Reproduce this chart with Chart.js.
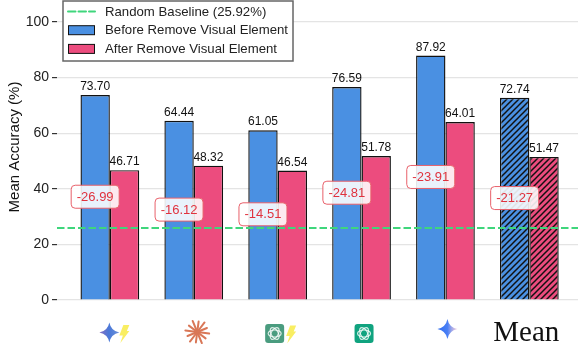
<!DOCTYPE html>
<html>
<head>
<meta charset="utf-8">
<script src="https://cdn.jsdelivr.net/npm/chart.js@4"></script>
<style>
html, body { margin: 0; padding: 0; background: #fff; }
canvas { display: block; }
</style>
</head>
<body>
<canvas id="myChart" width="578" height="354"></canvas>
<script>
const xLabels = ['', '', '', '', '', 'Mean'];
const icons = ['geminiBolt', 'claude', 'gptBolt', 'gpt', 'gemini', ''];
const before = [73.70, 64.44, 61.05, 76.59, 87.92, 72.74];
const after = [46.71, 48.32, 46.54, 51.78, 64.01, 51.47];
const diffs = [-26.99, -16.12, -14.51, -24.81, -23.91, -21.27];
const baseline = 25.92;
const yTicks = [0, 20, 40, 60, 80, 100];
const yTitle = 'Mean Accuracy (%)';
const xMin = -0.63, xMax = 5.58;

const BLUE = '#4a90e2', PINK = '#ec4c7e', GREEN = '#3fd67c';
const FONT = '"Liberation Sans", Arial, sans-serif';

function hatch(color) {
    const c = document.createElement('canvas');
    c.width = c.height = 6;
    const g = c.getContext('2d');
    g.fillStyle = color;
    g.fillRect(0, 0, 6, 6);
    g.strokeStyle = '#111';
    g.lineWidth = 1.5;
    [[-1, 1, 1, -1], [-1, 7, 7, -1], [5, 7, 7, 5]].forEach(l => {
        g.beginPath();
        g.moveTo(l[0], l[1]);
        g.lineTo(l[2], l[3]);
        g.stroke();
    });
    return g.createPattern(c, 'repeat');
}

function fills(color) {
    return xLabels.map(l => l === 'Mean' ? hatch(color) : color);
}

function points(values) {
    return values.map((v, i) => ({ x: i, y: v }));
}

function sparkle(ctx, x, y, r, fill) {
    const k = r * 0.16;
    ctx.fillStyle = fill;
    ctx.beginPath();
    ctx.moveTo(x, y - r);
    ctx.quadraticCurveTo(x + k, y - k, x + r, y);
    ctx.quadraticCurveTo(x + k, y + k, x, y + r);
    ctx.quadraticCurveTo(x - k, y + k, x - r, y);
    ctx.quadraticCurveTo(x - k, y - k, x, y - r);
    ctx.fill();
}

function bolt(ctx, x, y) {
    ctx.fillStyle = '#f9ee62';
    ctx.beginPath();
    ctx.moveTo(x - 1, y - 9);
    ctx.lineTo(x + 5, y - 9);
    ctx.lineTo(x + 2.5, y - 3);
    ctx.lineTo(x + 5, y - 3);
    ctx.lineTo(x - 4, y + 9);
    ctx.lineTo(x - 1.5, y + 1.5);
    ctx.lineTo(x - 5, y + 1.5);
    ctx.closePath();
    ctx.fill();
}

function gptTile(ctx, x, y, color) {
    ctx.fillStyle = color;
    ctx.beginPath();
    ctx.roundRect(x - 9.5, y - 9.5, 19, 19, 3);
    ctx.fill();
    ctx.strokeStyle = 'rgba(255,255,255,0.8)';
    ctx.lineWidth = 1.2;
    for (let a = 0; a < 3; a++) {
        ctx.save();
        ctx.translate(x, y);
        ctx.rotate(a * Math.PI / 3);
        ctx.beginPath();
        ctx.ellipse(0, 0, 6.5, 3.5, 0, 0, Math.PI * 2);
        ctx.stroke();
        ctx.restore();
    }
}

function drawIcon(ctx, name, x) {
    if (name === 'geminiBolt') {
        const g = ctx.createLinearGradient(x - 11, 0, x + 9, 0);
        g.addColorStop(0, '#8a6fc0');
        g.addColorStop(0.5, '#4a78d8');
        g.addColorStop(1, '#6a8fd8');
        sparkle(ctx, x - 0.5, 332.5, 10, g);
        bolt(ctx, x + 14.5, 334);
    } else if (name === 'claude') {
        ctx.strokeStyle = '#d97757';
        ctx.lineWidth = 2;
        ctx.lineCap = 'round';
        for (let a = 0; a < 12; a++) {
            const t = a * Math.PI / 6 + 0.13;
            const r = a % 2 ? 10.5 : 12;
            ctx.beginPath();
            ctx.moveTo(x + 3.5, 332);
            ctx.lineTo(x + 3.5 + Math.cos(t) * r, 332 + Math.sin(t) * r);
            ctx.stroke();
        }
    } else if (name === 'gptBolt') {
        gptTile(ctx, x - 3, 333.5, '#4a9c7f');
        bolt(ctx, x + 13.5, 334.5);
    } else if (name === 'gpt') {
        gptTile(ctx, x + 2.5, 333.5, '#10a37f');
    } else if (name === 'gemini') {
        const g = ctx.createLinearGradient(x - 8, 0, x + 12, 0);
        g.addColorStop(0, '#2f6cf0');
        g.addColorStop(0.5, '#4a80f5');
        g.addColorStop(1, 'rgba(240,190,210,0.7)');
        sparkle(ctx, x + 2, 329, 10, g);
    }
}

const annotate = {
    id: 'annotate',
    afterDatasetsDraw(chart) {
        const ctx = chart.ctx, x = chart.scales.x, y = chart.scales.y;
        const w = x.getPixelForValue(1) - x.getPixelForValue(0);
        const barW = w * 0.35;
        ctx.save();
        ctx.fillStyle = '#111';
        ctx.font = '12px ' + FONT;
        ctx.textAlign = 'center';
        ctx.textBaseline = 'alphabetic';
        xLabels.forEach((l, i) => {
            const cx = x.getPixelForValue(i);
            ctx.fillText(before[i].toFixed(2), cx - barW / 2, y.getPixelForValue(before[i]) - 5);
            ctx.fillText(after[i].toFixed(2), cx + barW / 2, y.getPixelForValue(after[i]) - 5);
        });
        // difference badges sit at half the height of the blue bar
        ctx.font = '13px ' + FONT;
        ctx.textBaseline = 'middle';
        xLabels.forEach((l, i) => {
            const bx = x.getPixelForValue(i) - barW / 2;
            const by = y.getPixelForValue(before[i] * 0.5 + 0.3);
            ctx.beginPath();
            ctx.roundRect(bx - 24, by - 11.5, 48, 23, 4);
            ctx.fillStyle = 'rgba(255,255,255,0.88)';
            ctx.fill();
            ctx.strokeStyle = '#e8606a';
            ctx.lineWidth = 1;
            ctx.stroke();
            ctx.fillStyle = '#e0323e';
            ctx.fillText(diffs[i].toFixed(2), bx, by + 0.5);
        });
        ctx.restore();
    },
    afterDraw(chart) {
        const ctx = chart.ctx, x = chart.scales.x;
        ctx.save();
        icons.forEach((name, i) => drawIcon(ctx, name, x.getPixelForValue(i)));

        // axis title sits above the plot middle in the reference
        ctx.save();
        ctx.translate(15, 147);
        ctx.rotate(-Math.PI / 2);
        ctx.fillStyle = '#111';
        ctx.font = '15px ' + FONT;
        ctx.textAlign = 'center';
        ctx.textBaseline = 'middle';
        ctx.fillText(yTitle, 0, 0);
        ctx.restore();

        // legend box, rows come from the datasets
        ctx.fillStyle = '#fff';
        ctx.strokeStyle = '#666';
        ctx.lineWidth = 1.5;
        ctx.fillRect(63, 1, 230, 60);
        ctx.strokeRect(63, 1, 230, 60);
        ctx.font = '13.2px ' + FONT;
        ctx.textAlign = 'left';
        ctx.textBaseline = 'middle';
        chart.data.datasets.forEach((ds, i) => {
            const ry = 11.5 + i * 18.7;
            if (ds.type === 'line') {
                ctx.strokeStyle = ds.borderColor;
                ctx.lineWidth = 2;
                ctx.setLineDash(ds.borderDash);
                ctx.beginPath();
                ctx.moveTo(68, ry);
                ctx.lineTo(95, ry);
                ctx.stroke();
                ctx.setLineDash([]);
            } else {
                ctx.fillStyle = i === 1 ? BLUE : PINK;
                ctx.strokeStyle = '#111';
                ctx.lineWidth = 1;
                ctx.fillRect(68.5, ry - 4.5, 26, 9);
                ctx.strokeRect(68.5, ry - 4.5, 26, 9);
            }
            ctx.fillStyle = '#222';
            ctx.fillText(ds.label, 105, ry + 0.5);
        });
        ctx.restore();
    }
};

const data = {
    datasets: [{
        type: 'line',
        label: 'Random Baseline (' + baseline + '%)',
        data: [{ x: xMin, y: baseline }, { x: xMax, y: baseline }],
        borderColor: GREEN,
        borderWidth: 2,
        borderDash: [7.5, 3],
        pointRadius: 0,
        order: 0
    }, {
        label: 'Before Remove Visual Element',
        data: points(before),
        backgroundColor: fills(BLUE),
        borderColor: '#111',
        borderWidth: 1.4,
        order: 1
    }, {
        label: 'After Remove Visual Element',
        data: points(after),
        backgroundColor: fills(PINK),
        borderColor: '#111',
        borderWidth: 1.4,
        order: 1
    }]
};

const config = {
    type: 'bar',
    data: data,
    plugins: [annotate],
    options: {
        responsive: false,
        animation: false,
        devicePixelRatio: 1,
        layout: { padding: { top: 22, right: 0, bottom: 0, left: 0 } },
        categoryPercentage: 0.7,
        barPercentage: 1,
        scales: {
            x: {
                type: 'linear',
                offset: false,
                min: xMin,
                max: xMax,
                afterBuildTicks(axis) {
                    axis.ticks = xLabels.map((l, i) => ({ value: i }));
                },
                afterFit(axis) {
                    axis.height = 54;
                },
                border: { display: false },
                grid: { display: false },
                ticks: {
                    autoSkip: false,
                    maxRotation: 0,
                    padding: 8,
                    labelOffset: -3,
                    color: '#111',
                    font: { family: '"Liberation Serif", serif', size: 29 },
                    callback: (v) => xLabels[v]
                }
            },
            y: {
                min: 0,
                max: 100,
                afterBuildTicks(axis) {
                    axis.ticks = yTicks.map(v => ({ value: v }));
                },
                afterFit(axis) {
                    axis.width = 57;
                },
                border: { display: false },
                grid: {
                    color: '#e4e4e4',
                    lineWidth: 1.2,
                    tickColor: '#333',
                    tickLength: 5
                },
                ticks: {
                    color: '#222',
                    padding: 3,
                    font: { family: FONT, size: 14 }
                }
            }
        },
        plugins: {
            legend: false,
            tooltip: { enabled: false }
        }
    }
};

const myChart = new Chart(document.getElementById('myChart'), config);
</script>
</body>
</html>
